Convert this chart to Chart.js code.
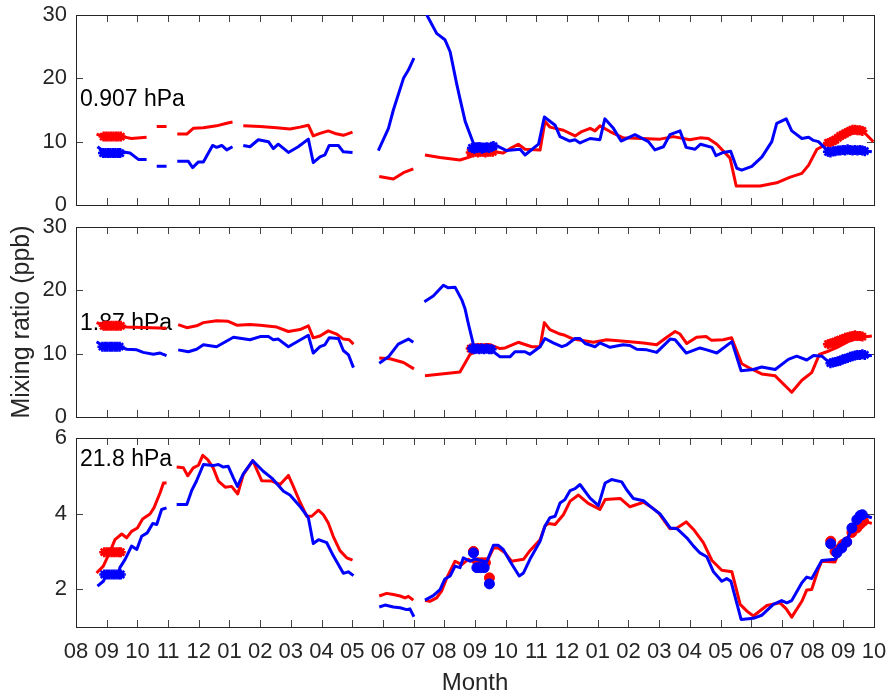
<!DOCTYPE html>
<html>
<head>
<meta charset="utf-8">
<script src="https://cdn.jsdelivr.net/npm/chart.js@4.4.1/dist/chart.umd.min.js"></script>
<style>
  body { margin: 0; background: #fff; }
  #wrap { position: relative; width: 890px; height: 695px; }
  .panel { position: absolute; left: 0; width: 890px; }
</style>
</head>
<body>
<div id="wrap">
  <div class="panel" style="top:0"><canvas id="c1" width="890" height="215"></canvas></div>
  <div class="panel" style="top:212px"><canvas id="c2" width="890" height="215"></canvas></div>
  <div class="panel" style="top:423px"><canvas id="c3" width="890" height="272"></canvas></div>
</div>
<script>
// x = months since the first 08 tick, null = gap in the line
const monthLabels = ['08','09','10','11','12','01','02','03','04','05','06','07','08',
  '09','10','11','12','01','02','03','04','05','06','07','08','09','10'];
const monthTicks = monthLabels.map((_, i) => i);

// ---- 0.907 hPa ----
const p1Red = [
  [0.67,11.2],[0.89,10.8],[1.49,10.8],[1.81,10.5],[2.30,10.7], null,
  [2.63,12.4],[2.95,12.4], null,
  [3.30,11.2],[3.61,11.2],[3.82,12.1],[4.15,12.2],[4.58,12.5],[4.91,12.9],[5.10,13.1], null,
  [5.45,12.5],[6.00,12.4],[6.54,12.2],[6.97,12.0],[7.30,12.3],[7.57,12.6],[7.73,10.9],[7.95,11.3],
  [8.22,11.7],[8.44,11.3],[8.71,11.0],[9.01,11.5], null,
  [9.88,4.5],[10.34,4.1],[10.67,5.1],[10.99,5.7], null,
  [11.37,7.9],[11.86,7.5],[12.51,7.1],[12.84,7.6],[13.06,8.3],[13.60,8.4],[13.92,8.2],[14.14,8.9],
  [14.41,9.6],[14.63,8.8],[15.12,8.7],[15.28,13.2],[15.44,12.3],[15.88,11.8],[16.26,10.9],[16.48,11.6],
  [16.75,12.1],[16.91,11.7],[17.07,12.5],[17.40,11.6],[17.83,10.6],[19.03,10.4],[19.46,10.8],[20.00,10.3],
  [20.33,10.6],[20.60,10.5],[20.88,9.6],[21.31,7.4],[21.51,3.0],[22.29,3.0],[22.83,3.5],[23.27,4.4],
  [23.65,5.0],[23.87,6.3],[24.14,8.8],[24.46,9.6],[24.79,10.3],[25.22,11.8],[25.65,11.6],[25.98,10.0]
];
const p1Blue = [
  [0.70,9.2],[0.89,8.5],[1.49,8.4],[1.76,8.2],[2.03,7.2],[2.30,7.2], null,
  [2.63,6.1],[2.95,6.1], null,
  [3.30,6.9],[3.66,6.9],[3.80,5.9],[3.99,6.8],[4.15,6.8],[4.45,9.4],[4.58,9.1],[4.75,9.4],[4.91,8.7],[5.10,9.2], null,
  [5.45,9.4],[5.67,9.2],[5.94,10.3],[6.27,10.0],[6.43,8.9],[6.59,9.6],[6.92,8.3],[7.24,9.2],[7.57,10.4],
  [7.73,6.7],[7.95,7.6],[8.11,7.9],[8.25,9.4],[8.55,9.4],[8.71,8.4],[9.01,8.3], null,
  [9.85,8.6],[10.18,12.1],[10.34,15.0],[10.67,20.0],[10.83,21.3],[11.01,23.2], null,
  [11.43,30.0],[11.75,27.1],[12.02,26.1],[12.19,24.2],[12.40,19.2],[12.51,16.8],[12.68,13.2],[12.95,9.7],
  [13.65,9.5],[14.03,8.6],[14.47,8.8],[14.63,7.9],[15.07,9.6],[15.26,13.9],[15.61,12.6],[15.77,10.8],
  [16.09,10.1],[16.26,10.3],[16.42,9.8],[16.75,10.5],[17.07,10.3],[17.23,13.6],[17.51,12.1],[17.76,10.1],
  [18.21,11.1],[18.65,10.0],[18.86,8.7],[19.14,9.2],[19.35,11.1],[19.68,11.7],[19.88,9.1],[20.17,8.8],
  [20.35,9.6],[20.72,9.1],[20.85,7.8],[21.09,8.3],[21.33,8.5],[21.53,5.8],[21.69,5.5],[22.02,6.1],
  [22.35,7.6],[22.67,10.0],[22.83,12.9],[23.14,13.6],[23.32,11.7],[23.65,10.5],[23.87,10.7],[24.03,10.2],
  [24.19,10.0],[24.46,8.7],[25.00,8.6],[25.50,8.7],[25.93,8.4]
];
const p1RedMk = [
  [0.90,10.8],[0.98,10.8],[1.06,10.8],[1.14,10.8],[1.22,10.8],[1.30,10.8],[1.38,10.8],[1.46,10.8],
  [12.86,8.3],[12.94,8.3],[13.02,8.4],[13.10,8.3],[13.18,8.4],[13.26,8.4],[13.34,8.3],[13.42,8.4],[13.50,8.4],[13.58,8.4],
  [24.50,9.8],[24.58,9.9],[24.66,10.1],[24.74,10.3],[24.82,10.6],[24.90,10.9],[24.98,11.1],[25.06,11.3],
  [25.14,11.5],[25.22,11.7],[25.30,11.9],[25.38,11.9],[25.46,11.8],[25.54,11.8],[25.62,11.7]
];
const p1BlueMk = [
  [0.88,8.2],[0.96,8.2],[1.04,8.2],[1.12,8.2],[1.20,8.2],[1.28,8.2],[1.36,8.2],[1.44,8.2],
  [12.90,9.0],[12.98,8.9],[13.06,9.0],[13.14,9.1],[13.22,8.9],[13.30,9.0],[13.38,9.1],[13.46,9.0],[13.54,9.2],[13.60,9.3],
  [24.50,8.4],[24.58,8.3],[24.66,8.5],[24.74,8.5],[24.82,8.6],[24.90,8.6],[24.98,8.7],[25.06,8.6],
  [25.14,8.8],[25.22,8.7],[25.30,8.6],[25.38,8.7],[25.46,8.6],[25.54,8.7],[25.62,8.6],[25.70,8.5]
];

// ---- 1.87 hPa ----
const p2Red = [
  [0.67,14.9],[0.89,14.5],[1.49,14.3],[1.65,14.2],[2.95,14.0], null,
  [3.33,14.6],[3.61,14.1],[3.93,14.4],[4.15,14.9],[4.58,15.2],[4.96,15.1],[5.24,14.5],[5.67,14.6],
  [6.00,14.5],[6.54,14.2],[6.92,13.5],[7.30,13.8],[7.57,14.4],[7.73,12.5],[7.95,12.8],[8.22,13.6],
  [8.49,13.1],[8.71,12.3],[8.90,12.2],[9.04,11.5], null,
  [9.88,9.3],[10.23,9.2],[10.67,8.6],[11.01,7.6], null,
  [11.37,6.5],[12.51,7.1],[12.84,9.9],[13.49,11.4],[13.82,10.8],[13.98,10.9],[14.41,11.8],[14.85,11.1],
  [15.12,11.1],[15.26,14.9],[15.44,13.8],[15.77,13.1],[15.93,12.9],[16.20,12.3],[16.86,11.8],[17.29,12.2],
  [18.05,11.9],[18.49,11.7],[18.92,11.4],[19.25,12.6],[19.52,13.5],[19.68,13.1],[19.90,11.6],[20.22,12.6],
  [20.53,12.7],[20.71,12.1],[21.09,12.2],[21.36,12.5],[21.69,8.4],[21.96,7.7],[22.34,6.8],[22.78,6.5],
  [23.32,3.9],[23.65,5.8],[23.97,7.0],[24.22,9.9],[24.46,10.3],[24.80,11.0],[25.20,12.0],[25.60,12.6],[25.93,12.8]
];
const p2Blue = [
  [0.67,11.9],[0.89,11.2],[1.49,11.0],[1.65,10.7],[1.98,10.6],[2.19,10.2],[2.52,9.9],[2.74,10.1],[2.95,9.7], null,
  [3.33,10.6],[3.66,10.3],[3.93,10.7],[4.15,11.4],[4.58,11.1],[5.13,12.6],[5.67,12.2],[6.00,12.7],
  [6.27,12.7],[6.43,12.2],[6.59,12.3],[6.92,11.1],[7.57,12.9],[7.73,10.1],[7.95,11.1],[8.11,11.4],
  [8.25,12.5],[8.55,12.4],[8.71,10.5],[8.88,9.8],[9.04,7.8], null,
  [9.88,8.5],[10.18,9.5],[10.50,11.5],[10.83,12.3],[10.99,11.8], null,
  [11.35,18.2],[11.64,19.1],[11.97,20.8],[12.13,20.4],[12.35,20.5],[12.57,18.5],[12.68,17.0],[12.78,14.8],
  [12.95,11.4],[13.60,10.3],[13.82,9.5],[14.14,9.5],[14.30,10.3],[14.63,10.3],[14.79,9.9],[15.12,11.1],
  [15.28,12.4],[15.55,11.7],[15.83,11.1],[15.99,11.4],[16.26,12.4],[16.42,12.4],[16.59,11.6],[16.91,11.1],
  [17.07,11.7],[17.40,11.0],[17.83,11.4],[18.05,11.3],[18.27,10.7],[18.60,10.6],[18.92,10.2],[19.36,12.3],
  [19.52,12.2],[19.88,10.1],[20.33,10.9],[20.55,10.6],[20.88,10.1],[21.37,11.9],[21.67,7.3],[22.07,7.5],
  [22.34,7.9],[22.78,7.5],[23.21,9.1],[23.48,9.6],[23.81,9.0],[24.03,9.7],[24.30,9.6],[24.57,8.5],
  [25.00,9.0],[25.50,9.6],[25.93,9.7]
];
const p2RedMk = [
  [0.90,14.4],[0.98,14.4],[1.06,14.4],[1.14,14.4],[1.22,14.4],[1.30,14.4],[1.38,14.4],[1.46,14.4],
  [12.86,10.8],[12.94,10.9],[13.02,10.8],[13.10,10.9],[13.18,10.9],[13.26,10.8],[13.34,10.9],[13.42,10.9],[13.50,10.8],
  [24.50,11.5],[24.58,11.6],[24.66,11.7],[24.74,11.9],[24.82,12.0],[24.90,12.2],[24.98,12.3],[25.06,12.5],
  [25.14,12.6],[25.22,12.7],[25.30,12.8],[25.38,12.9],[25.46,12.8],[25.54,12.8],[25.62,12.7]
];
const p2BlueMk = [
  [0.86,11.1],[0.94,11.1],[1.02,11.1],[1.10,11.1],[1.18,11.1],[1.26,11.1],[1.34,11.1],[1.42,11.1],
  [12.90,10.8],[12.98,10.7],[13.06,10.8],[13.14,10.7],[13.22,10.8],[13.30,10.7],[13.38,10.8],[13.46,10.7],[13.54,10.7],
  [24.58,8.5],[24.66,8.6],[24.74,8.7],[24.82,8.8],[24.90,8.9],[24.98,9.1],[25.06,9.2],[25.14,9.3],
  [25.22,9.5],[25.30,9.6],[25.38,9.7],[25.46,9.8],[25.54,9.8],[25.62,9.9],[25.70,9.8]
];

// ---- 21.8 hPa ----
const p3Red = [
  [0.67,2.43],[0.89,2.61],[1.10,2.98],[1.27,3.31],[1.49,3.46],[1.65,3.36],[1.81,3.53],[2.00,3.62],
  [2.17,3.86],[2.41,3.99],[2.54,4.15],[2.74,4.55],[2.85,4.81],[2.95,4.81], null,
  [3.28,5.23],[3.50,5.21],[3.64,5.00],[3.82,5.21],[3.99,5.28],[4.13,5.54],[4.29,5.43],[4.47,5.21],
  [4.64,4.86],[4.86,4.70],[5.07,4.72],[5.27,4.52],[5.45,5.03],[5.76,5.40],[6.05,4.87],[6.38,4.86],
  [6.65,4.77],[6.92,5.01],[7.08,4.72],[7.30,4.30],[7.52,3.93],[7.68,3.93],[7.90,4.09],[8.06,3.97],
  [8.22,3.75],[8.38,3.40],[8.60,3.02],[8.82,2.83],[9.01,2.77], null,
  [9.88,1.82],[10.12,1.89],[10.34,1.86],[10.56,1.82],[10.72,1.77],[10.83,1.81],[10.99,1.71], null,
  [11.37,1.70],[11.53,1.68],[11.75,1.77],[11.91,1.95],[12.08,2.30],[12.35,2.74],[12.57,2.65],[12.78,2.79],
  [13.00,2.70],[13.38,2.72],[13.60,3.09],[13.76,3.09],[13.98,2.96],[14.19,2.74],[14.58,2.79],[14.79,3.02],
  [15.12,3.31],[15.28,3.67],[15.39,3.74],[15.61,3.71],[15.88,3.97],[16.10,4.33],[16.37,4.49],[16.69,4.27],
  [17.07,4.11],[17.24,4.37],[17.73,4.40],[18.05,4.18],[18.49,4.30],[18.71,4.19],[18.98,4.02],[19.35,3.60],
  [19.58,3.62],[19.88,3.78],[20.12,3.58],[20.44,3.23],[20.72,2.76],[21.04,2.50],[21.37,2.46],[21.64,1.60],
  [21.86,1.42],[22.07,1.29],[22.51,1.57],[22.94,1.64],[23.14,1.48],[23.32,1.26],[23.65,1.68],[23.81,1.98],
  [23.97,1.99],[24.19,2.54],[24.30,2.74],[24.73,2.72],[24.95,3.18],[25.22,3.45],[25.44,3.62],[25.66,3.80],[25.93,3.74]
];
const p3Blue = [
  [0.70,2.08],[0.89,2.21],[1.00,2.39],[1.38,2.39],[1.43,2.57],[1.60,2.79],[1.81,3.14],[1.98,3.05],
  [2.14,3.40],[2.32,3.49],[2.50,3.74],[2.63,3.71],[2.79,4.11],[2.95,4.15], null,
  [3.28,4.24],[3.61,4.24],[3.77,4.61],[3.93,4.87],[4.15,5.30],[4.47,5.27],[4.64,5.30],[4.80,5.23],
  [4.96,5.25],[5.13,4.94],[5.26,4.72],[5.45,5.05],[5.76,5.40],[6.10,5.12],[6.38,4.94],[6.76,4.59],
  [6.97,4.49],[7.30,4.19],[7.57,3.89],[7.73,3.21],[7.90,3.31],[8.17,3.23],[8.38,2.89],[8.71,2.42],
  [8.87,2.46],[9.04,2.36], null,
  [9.88,1.53],[10.07,1.58],[10.34,1.53],[10.56,1.51],[10.77,1.46],[10.88,1.48],[11.01,1.27], null,
  [11.37,1.71],[11.64,1.83],[11.86,1.99],[12.02,2.27],[12.19,2.35],[12.35,2.61],[12.51,2.57],[12.62,2.83],
  [12.84,2.74],[13.00,2.80],[13.38,2.72],[13.60,3.16],[13.76,3.16],[13.92,3.05],[14.14,2.74],[14.44,2.35],
  [14.58,2.43],[14.79,2.79],[15.12,3.27],[15.28,3.67],[15.44,3.89],[15.61,3.93],[15.77,4.28],[15.93,4.37],
  [16.10,4.61],[16.26,4.66],[16.42,4.77],[16.75,4.41],[17.02,4.21],[17.24,4.81],[17.45,4.90],[17.78,4.84],
  [17.94,4.63],[18.16,4.40],[18.49,4.34],[18.71,4.19],[19.03,3.99],[19.36,3.62],[19.58,3.60],[19.90,3.36],
  [20.12,3.14],[20.33,2.96],[20.55,2.86],[20.77,2.46],[21.04,2.21],[21.20,2.28],[21.34,2.21],[21.67,1.20],
  [22.07,1.23],[22.34,1.31],[22.72,1.60],[22.99,1.70],[23.16,1.64],[23.32,1.70],[23.65,2.17],[23.81,2.32],
  [23.97,2.28],[24.30,2.76],[24.73,2.79],[25.11,3.27],[25.28,3.62],[25.55,3.99],[25.93,3.89]
];
const p3RedMk = [[0.92,2.98],[1.00,2.98],[1.08,2.98],[1.16,2.98],[1.24,2.98],[1.32,2.98],[1.40,2.98],[1.46,2.98]];
const p3BlueMk = [[0.92,2.39],[1.00,2.39],[1.08,2.39],[1.16,2.39],[1.24,2.39],[1.32,2.39],[1.40,2.39],[1.46,2.39]];
const p3RedDots = [
  [12.95,3.00],[13.10,2.70],[13.22,2.70],[13.34,2.70],[13.47,2.30],
  [24.59,3.27],[24.73,3.00],[24.85,3.05],[24.98,3.18],[25.11,3.25],[25.28,3.50],[25.44,3.62],[25.55,3.72],[25.66,3.80]
];
const p3BlueDots = [
  [12.95,2.96],[13.06,2.57],[13.18,2.57],[13.30,2.57],[13.47,2.14],
  [24.59,3.20],[24.79,2.96],[24.95,3.09],[25.11,3.25],[25.28,3.62],[25.44,3.84],[25.55,3.95],[25.62,3.97]
];

const RED = '#ff0000';
const BLUE = '#0000ff';
const AXIS = '#262626';
const FONT = "'Liberation Sans', Arial, Helvetica, sans-serif";

function toPoints(list) {
  let lastX = 0;
  return list.map(p => {
    if (p === null) return { x: lastX + 0.01, y: null };
    lastX = p[0];
    return { x: p[0], y: p[1] };
  });
}

function lineSet(list, color, order) {
  return {
    data: toPoints(list), borderColor: color, borderWidth: 3, pointRadius: 0,
    spanGaps: false, tension: 0, fill: false, borderJoinStyle: 'round', order: order
  };
}

function markerSet(list, color, style, order) {
  return {
    data: toPoints(list), showLine: false, borderColor: color, backgroundColor: color,
    pointStyle: style, pointRadius: 5, pointBorderWidth: style === 'star' ? 2.5 : 1,
    pointBorderColor: color, pointBackgroundColor: color, order: order
  };
}

// box around the axes, inward ticks on all four sides, panel label
const boxPlugin = {
  id: 'box',
  beforeDatasetsDraw(chart, args, opts) {
    const { ctx, chartArea: a, scales } = chart;
    ctx.save();
    ctx.strokeStyle = '#444';
    ctx.lineWidth = 1;
    ctx.beginPath();
    monthTicks.forEach(v => {
      const px = Math.round(scales.x.getPixelForValue(v)) + 0.5;
      ctx.moveTo(px, a.bottom); ctx.lineTo(px, a.bottom - 7);
      ctx.moveTo(px, a.top); ctx.lineTo(px, a.top + 7);
    });
    scales.y.ticks.forEach(t => {
      const py = Math.round(scales.y.getPixelForValue(t.value)) + 0.5;
      ctx.moveTo(a.left, py); ctx.lineTo(a.left + 7, py);
      ctx.moveTo(a.right, py); ctx.lineTo(a.right - 7, py);
    });
    ctx.stroke();
    ctx.strokeStyle = AXIS;
    ctx.strokeRect(Math.round(a.left) + 0.5, Math.round(a.top) + 0.5, Math.round(a.width), Math.round(a.height));

    ctx.fillStyle = '#000';
    ctx.font = '23px ' + FONT;
    ctx.textBaseline = 'middle';
    ctx.textAlign = 'left';
    ctx.fillText(opts.text, a.left + 4, scales.y.getPixelForValue(opts.at));
    ctx.restore();
  }
};

function makePanel(id, p) {
  return new Chart(document.getElementById(id), {
    type: 'line',
    data: { datasets: p.datasets },
    options: {
      responsive: false,
      animation: false,
      devicePixelRatio: 1,
      layout: { padding: { top: 15, right: 16, bottom: p.bottom ? 0 : 10, left: 0 } },
      plugins: {
        legend: { display: false },
        tooltip: { enabled: false },
        box: { text: p.label, at: p.labelAt }
      },
      scales: {
        x: {
          type: 'linear', min: 0, max: 26, display: p.bottom,
          grid: { display: false, drawTicks: false },
          border: { display: false },
          afterBuildTicks: s => { s.ticks = monthTicks.map(v => ({ value: v })); },
          afterFit: s => {
            s.height = p.bottom ? 68 : 0;
            s.paddingLeft = 0; s.paddingRight = 0;
          },
          ticks: {
            autoSkip: false, maxRotation: 0, padding: 12, color: AXIS,
            font: { family: FONT, size: 22 },
            callback: (v, i) => monthLabels[i]
          },
          title: {
            display: true, text: 'Month', color: AXIS,
            font: { family: FONT, size: 24, lineHeight: 1 }, padding: { top: 0, bottom: 0 }
          }
        },
        y: {
          min: p.min, max: p.max,
          grid: { display: false, drawTicks: false },
          border: { display: false },
          afterBuildTicks: s => { s.ticks = p.yTicks.map(v => ({ value: v })); },
          afterFit: s => {
            s.width = 76;
            s.paddingTop = 0; s.paddingBottom = 0;
          },
          ticks: { padding: 9, color: AXIS, font: { family: FONT, size: 22 } },
          title: {
            display: !!p.yTitle, text: p.yTitle || '', color: AXIS,
            font: { family: FONT, size: 25 }, padding: { top: 7, bottom: 0 }
          }
        }
      }
    },
    plugins: [boxPlugin]
  });
}

makePanel('c1', {
  label: '0.907 hPa', labelAt: 16.7, min: 0, max: 30, yTicks: [0, 10, 20, 30], bottom: false,
  datasets: [
    lineSet(p1Red, RED, 6), markerSet(p1RedMk, RED, 'star', 5),
    lineSet(p1Blue, BLUE, 3), markerSet(p1BlueMk, BLUE, 'star', 2)
  ]
});

makePanel('c2', {
  label: '1.87 hPa', labelAt: 14.8, min: 0, max: 30, yTicks: [0, 10, 20, 30], bottom: false,
  yTitle: 'Mixing ratio (ppb)',
  datasets: [
    lineSet(p2Red, RED, 6), markerSet(p2RedMk, RED, 'star', 5),
    lineSet(p2Blue, BLUE, 3), markerSet(p2BlueMk, BLUE, 'star', 2)
  ]
});

makePanel('c3', {
  label: '21.8 hPa', labelAt: 5.43, min: 1, max: 6, yTicks: [2, 4, 6], bottom: true,
  datasets: [
    lineSet(p3Red, RED, 6), markerSet(p3RedMk, RED, 'star', 5), markerSet(p3RedDots, RED, 'circle', 4),
    lineSet(p3Blue, BLUE, 3), markerSet(p3BlueMk, BLUE, 'star', 2), markerSet(p3BlueDots, BLUE, 'circle', 1)
  ]
});
</script>
</body>
</html>
